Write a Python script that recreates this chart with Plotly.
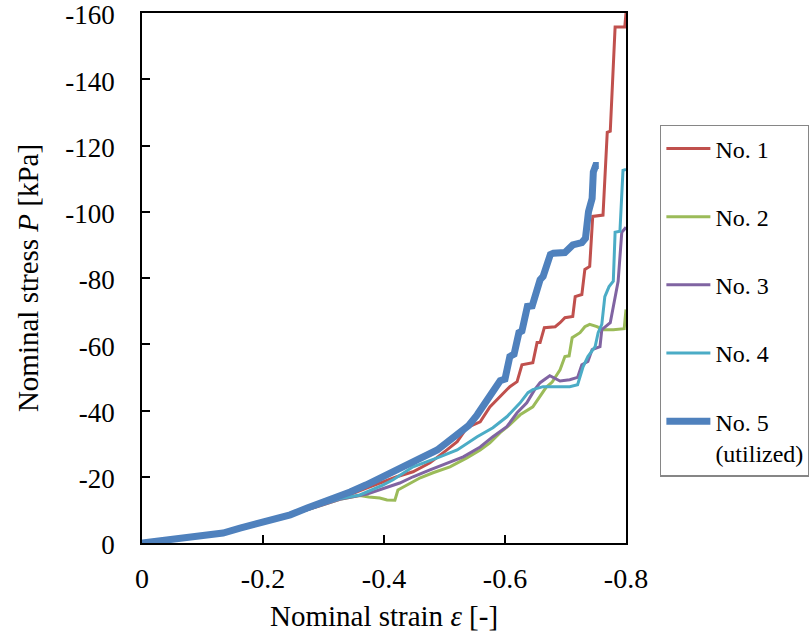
import plotly.graph_objects as go

# No. 1
strain_1 = [0, -0.07, -0.134, -0.2, -0.273, -0.327, -0.37, -0.421, -0.448, -0.476, -0.504, -0.521,
            -0.537, -0.559, -0.575, -0.59, -0.608, -0.62, -0.628, -0.646, -0.653, -0.658, -0.665,
            -0.683, -0.691, -0.699, -0.712, -0.716, -0.727, -0.732, -0.740, -0.745, -0.762, -0.769,
            -0.774, -0.782, -0.798, -0.8]
stress_1 = [0, -1.4, -2.9, -6.1, -10.2, -13.4, -16.5, -20.0, -21.5, -24.2, -28.1, -30.6,
            -34.8, -36.6, -41.1, -44.0, -47.2, -48.7, -53.8, -54.4, -60.5, -60.5, -65.0,
            -65.3, -66.5, -68.0, -68.4, -74.4, -75.0, -82.6, -83.5, -98.6, -99.0, -124.0,
            -124.3, -155.8, -155.8, -160.0]

# No. 2
strain_2 = [0, -0.07, -0.134, -0.2, -0.273, -0.327, -0.36, -0.375, -0.393, -0.405, -0.418, -0.423,
            -0.438, -0.46, -0.481, -0.509, -0.537, -0.559, -0.575, -0.592, -0.608, -0.625, -0.646,
            -0.658, -0.668, -0.678, -0.691, -0.699, -0.706, -0.711, -0.724, -0.732, -0.74, -0.752,
            -0.762, -0.779, -0.797, -0.8]
stress_2 = [0, -1.4, -2.9, -6.0, -10.0, -13.2, -14.3, -13.9, -13.6, -13.0, -12.9, -16.0,
            -17.5, -19.7, -21.2, -23.0, -25.7, -28.1, -30.2, -33.3, -35.7, -38.7, -41.1,
            -44.2, -47.0, -48.6, -52.3, -56.3, -56.5, -62.0, -63.5, -65.3, -66.0, -65.3,
            -64.4, -64.4, -64.7, -70.5]

# No. 3
strain_3 = [0, -0.07, -0.134, -0.2, -0.273, -0.327, -0.372, -0.426, -0.448, -0.476, -0.504, -0.531,
            -0.559, -0.580, -0.603, -0.620, -0.636, -0.648, -0.658, -0.674, -0.691, -0.707, -0.72,
            -0.727, -0.737, -0.744, -0.757, -0.76, -0.774, -0.782, -0.787, -0.793, -0.8]
stress_3 = [0, -1.4, -2.9, -6.0, -10.0, -13.2, -14.8, -18.1, -20.0, -22.1, -24.2, -26.0,
            -29.0, -32.1, -35.1, -39.3, -42.3, -46.0, -48.4, -50.5, -48.9, -49.3, -50.0,
            -53.8, -54.8, -58.4, -59.3, -64.4, -66.5, -74.1, -79.0, -93.8, -95.3]

# No. 4
strain_4 = [0, -0.07, -0.134, -0.2, -0.273, -0.327, -0.36, -0.398, -0.415, -0.448, -0.488, -0.521,
            -0.554, -0.580, -0.603, -0.625, -0.638, -0.646, -0.663, -0.691, -0.707, -0.72, -0.729,
            -0.737, -0.749, -0.754, -0.76, -0.765, -0.772, -0.779, -0.782, -0.79, -0.795, -0.8]
stress_4 = [0, -1.4, -2.9, -6.1, -10.2, -13.4, -14.5, -17.5, -19.1, -23.0, -25.7, -28.1,
            -32.1, -34.8, -38.1, -42.3, -45.4, -46.3, -47.2, -47.2, -47.2, -47.8, -53.2,
            -56.3, -59.3, -63.5, -66.0, -74.4, -77.4, -79.0, -93.8, -94.1, -112.5, -112.8]

# No. 5 (utilized)
strain_5 = [0, -0.068, -0.134, -0.162, -0.2, -0.245, -0.273, -0.3, -0.327, -0.344, -0.37, -0.398,
            -0.42, -0.448, -0.47, -0.488, -0.505, -0.521, -0.54, -0.554, -0.575, -0.592, -0.600,
            -0.608, -0.615, -0.623, -0.628, -0.637, -0.645, -0.658, -0.663, -0.675, -0.68, -0.699,
            -0.712, -0.727, -0.733, -0.738, -0.744, -0.746, -0.75, -0.755]
stress_5 = [0, -1.5, -3.0, -4.5, -6.4, -8.5, -10.6, -12.5, -13.9, -15.4, -17.5, -20.0,
            -21.5, -24.2, -26.5, -28.1, -30.5, -32.7, -35.5, -38.7, -44.2, -49.0, -49.5,
            -56.3, -57.0, -63.5, -64.0, -71.4, -71.6, -79.5, -80.5, -87.1, -87.5, -87.7,
            -90.0, -90.7, -92.0, -100.0, -104.0, -112.0, -114.0, -114.0]

names = ["No. 1", "No. 2", "No. 3", "No. 4", "No. 5<br>(utilized)"]
colors = ["#C0504D", "#9BBB59", "#8064A2", "#4BACC6", "#4F81BD"]
widths = [3, 3, 3, 3, 7]
xs = [strain_1, strain_2, strain_3, strain_4, strain_5]
ys = [stress_1, stress_2, stress_3, stress_4, stress_5]

y_tickvals = [0, -20, -40, -60, -80, -100, -120, -140, -160]
y_ticktext = ["0", "-20", "-40", "-60", "-80", "-100", "-120", "-140", "-160"]
x_tickvals = [0, -0.2, -0.4, -0.6, -0.8]
x_ticktext = ["0", "-0.2", "-0.4", "-0.6", "-0.8"]

FONT = "Times New Roman, Liberation Serif, serif"

fig = go.Figure()
for i in range(5):
    fig.add_trace(go.Scatter(
        x=xs[i], y=ys[i], mode="lines", name=names[i], legendgroup=str(i),
        line=dict(color=colors[i], width=widths[i]),
    ))

fig.update_layout(
    width=809, height=642,
    margin=dict(l=142, r=183, t=13, b=99, autoexpand=False),
    paper_bgcolor="white", plot_bgcolor="white",
    font=dict(family=FONT, size=28, color="black"),
    showlegend=True,
    legend=dict(
        x=1.070, y=0.789, xanchor="left", yanchor="top",
        bordercolor="#868686", borderwidth=1.5, bgcolor="white",
        font=dict(family=FONT, size=24, color="black"),
        tracegroupgap=34, valign="top", itemwidth=44,
    ),
)
fig.update_xaxes(
    range=[0, -0.8], tickvals=x_tickvals, ticktext=x_ticktext,
    showgrid=False, zeroline=False, showline=True, linecolor="black", linewidth=1.5,
    mirror=True, ticks="inside", ticklen=8, tickcolor="black", tickwidth=1.5,
    ticklabelstandoff=10, ticklabeloverflow="allow",
    tickfont=dict(family=FONT, size=28),
    title=dict(text="Nominal strain <i>ε</i> [-]", font=dict(family=FONT, size=29), standoff=12),
)
fig.update_yaxes(
    range=[0, -160], tickvals=y_tickvals, ticktext=y_ticktext,
    showgrid=False, zeroline=False, showline=True, linecolor="black", linewidth=1.5,
    mirror=True, ticks="inside", ticklen=8, tickcolor="black", tickwidth=1.5,
    ticklabelstandoff=20, ticklabeloverflow="allow", automargin=False,
    tickfont=dict(family=FONT, size=27), ticklabelshift=-2,
    title=dict(text="Nominal stress <i>P</i> [kPa]", font=dict(family=FONT, size=29), standoff=18),
)

fig.write_html("out.html")
